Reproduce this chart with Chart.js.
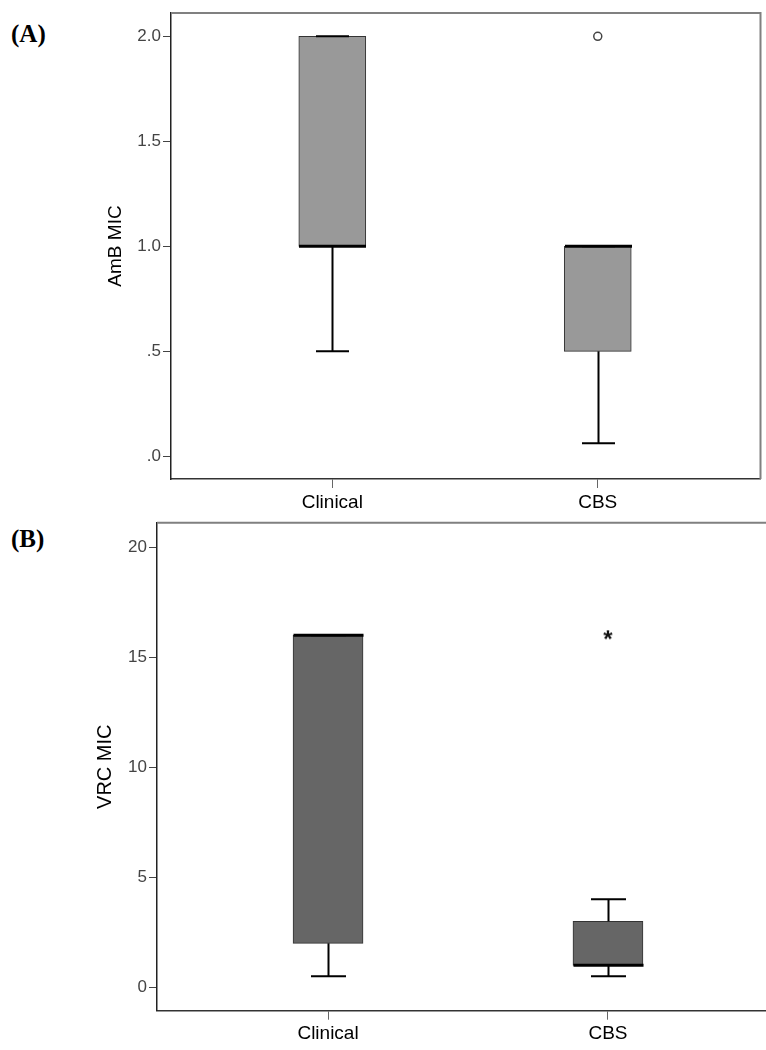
<!DOCTYPE html>
<html><head><meta charset="utf-8">
<script src="https://cdn.jsdelivr.net/npm/chart.js@4"></script>
<style>
html,body{margin:0;padding:0;background:#fff;overflow:hidden;width:766px;height:1050px;position:relative}
canvas{position:absolute;left:0}
.lbl{position:absolute;font-family:"Liberation Serif","Times New Roman",serif;font-weight:bold;font-size:25px;color:#000;line-height:1}
</style></head><body>
<div class="lbl" style="left:11px;top:21px">(A)</div>
<div class="lbl" style="left:11px;top:526px">(B)</div>
<canvas id="a" width="766" height="522" style="top:0"></canvas>
<canvas id="b" width="790" height="540" style="top:510px"></canvas>
<script>
const categories = ['Clinical', 'CBS'];
const categoryPos = [1, 2];

const ambMin    = [0.5, 0.0625];
const ambQ1     = [1, 0.5];
const ambMedian = [1, 1];
const ambQ3     = [2, 1];
const ambMax    = [2, 1];
const ambOutliers = [{cat: 2, value: 2}];
const ambTicks = [0, 0.5, 1, 1.5, 2];
const ambTickLabels = ['.0', '.5', '1.0', '1.5', '2.0'];

const vrcMin    = [0.5, 0.5];
const vrcQ1     = [2, 1];
const vrcMedian = [16, 1];
const vrcQ3     = [16, 3];
const vrcMax    = [16, 4];
const vrcExtremes = [{cat: 2, value: 16}];
const vrcTicks = [0, 5, 10, 15, 20];
const vrcTickLabels = ['0', '5', '10', '15', '20'];

const FONT = '"Liberation Sans", Arial, sans-serif';

// asterisk marker for extreme values
const starImg = document.createElement('canvas');
starImg.width = 16; starImg.height = 16;
(function () {
  const c = starImg.getContext('2d');
  c.fillStyle = '#111';
  c.font = 'bold 24px "Liberation Sans", Arial, sans-serif';
  c.textAlign = 'center';
  c.textBaseline = 'middle';
  c.fillText('*', 8, 13);
})();

const boxPlugin = {
  id: 'boxplot',
  afterDatasetsDraw(chart, args, o) {
    const {ctx, chartArea: ca, scales: {x, y}} = chart;
    ctx.save();
    ctx.lineCap = 'butt';
    for (let i = 0; i < o.min.length; i++) {
      const cx = Math.round(x.getPixelForValue(categoryPos[i])) + 0.5;
      const yq1 = y.getPixelForValue(o.q1[i]);
      const yq3 = y.getPixelForValue(o.q3[i]);
      const ymin = y.getPixelForValue(o.min[i]);
      const ymax = y.getPixelForValue(o.max[i]);
      const ymed = y.getPixelForValue(o.median[i]);
      ctx.strokeStyle = '#000';
      ctx.lineWidth = 2;
      ctx.beginPath();
      if (ymax < yq3) { ctx.moveTo(cx, yq3); ctx.lineTo(cx, ymax); }
      if (ymin > yq1) { ctx.moveTo(cx, yq1); ctx.lineTo(cx, ymin); }
      ctx.stroke();
      ctx.beginPath();
      ctx.moveTo(cx - o.cap / 2, ymax); ctx.lineTo(cx + o.cap / 2, ymax);
      ctx.moveTo(cx - o.cap / 2, ymin); ctx.lineTo(cx + o.cap / 2, ymin);
      ctx.stroke();
      ctx.lineWidth = 3;
      ctx.beginPath();
      ctx.moveTo(cx - o.box / 2, ymed); ctx.lineTo(cx + o.box / 2, ymed);
      ctx.stroke();
    }
    ctx.strokeStyle = '#808080';
    ctx.lineWidth = 2;
    ctx.beginPath();
    ctx.moveTo(ca.left, ca.top); ctx.lineTo(ca.right, ca.top); ctx.lineTo(ca.right, ca.bottom);
    ctx.stroke();
    ctx.restore();
  }
};

function makeChart(id, cfg) {
  const data = categories.map((c, i) => ({x: categoryPos[i], y: [cfg.q1[i], cfg.q3[i]]}));
  return new Chart(document.getElementById(id), {
    type: 'bar',
    data: {
      datasets: [
        {
          type: 'bar', data: data,
          backgroundColor: cfg.fill, borderColor: '#333', borderWidth: 1,
          borderSkipped: false, barThickness: cfg.box
        },
        {
          type: 'scatter', data: cfg.out.map(p => ({x: categoryPos[p.cat - 1], y: p.value})),
          pointStyle: cfg.outStyle, pointRadius: cfg.outRadius,
          backgroundColor: cfg.outFill, borderColor: cfg.outColor, borderWidth: cfg.outBorder,
          showLine: false
        }
      ]
    },
    options: {
      responsive: false, animation: false, devicePixelRatio: 1,
      layout: {padding: cfg.pad},
      plugins: {
        legend: {display: false}, tooltip: {enabled: false},
        boxplot: {min: cfg.min, q1: cfg.q1, median: cfg.median, q3: cfg.q3, max: cfg.max, cap: cfg.cap, box: cfg.box}
      },
      scales: {
        x: {
          type: 'linear', min: cfg.xmin, max: cfg.xmax, offset: false,
          afterBuildTicks: s => { s.ticks = categoryPos.map(v => ({value: v})); },
          afterFit: s => { s.height = cfg.xh; },
          ticks: {callback: v => categories[categoryPos.indexOf(v)], font: {family: FONT, size: 19}, color: '#000', padding: 3, autoSkip: false, maxRotation: 0},
          grid: {display: true, drawOnChartArea: false, drawTicks: true, tickLength: 9, color: '#666', offset: false},
          border: {display: true, color: '#333', width: 1.5}
        },
        y: {
          type: 'linear', min: cfg.ymin, max: cfg.ymax, beginAtZero: false,
          afterBuildTicks: s => { s.ticks = cfg.ticks.map(v => ({value: v})); },
          afterFit: s => { s.width = cfg.yw; },
          ticks: {callback: v => cfg.tickLabels[cfg.ticks.indexOf(v)], font: {family: FONT, size: 17}, color: '#444', padding: 2},
          grid: {display: true, drawOnChartArea: false, drawTicks: true, tickLength: 8, color: '#444'},
          border: {display: true, color: '#222', width: 1.5},
          title: {display: true, text: cfg.title, font: {family: FONT, size: cfg.titleSize}, color: '#000', padding: {top: cfg.titlePad, bottom: 0}}
        }
      }
    },
    plugins: [boxPlugin]
  });
}

makeChart('a', {
  min: ambMin, q1: ambQ1, median: ambMedian, q3: ambQ3, max: ambMax, out: ambOutliers,
  fill: '#999999', box: 67, cap: 33,
  outStyle: 'circle', outRadius: 4, outFill: '#fff', outColor: '#444', outBorder: 1.5,
  pad: {top: 13, right: 0, bottom: 0, left: 0},
  xmin: 0.3925, xmax: 2.613, xh: 43, yw: 171,
  ymin: -0.108, ymax: 2.111, ticks: ambTicks, tickLabels: ambTickLabels,
  title: 'AmB MIC', titleSize: 19, titlePad: 104
});

makeChart('b', {
  min: vrcMin, q1: vrcQ1, median: vrcMedian, q3: vrcQ3, max: vrcMax, out: vrcExtremes,
  fill: '#666666', box: 70, cap: 35,
  outStyle: starImg, outRadius: 6, outFill: '#000', outColor: '#000', outBorder: 0,
  pad: {top: 12.7, right: 11, bottom: 0, left: 0},
  xmin: 0.389, xmax: 2.611, xh: 39.3, yw: 157,
  ymin: -1.064, ymax: 21.12, ticks: vrcTicks, tickLabels: vrcTickLabels,
  title: 'VRC MIC', titleSize: 20, titlePad: 93
});
</script>
</body></html>
